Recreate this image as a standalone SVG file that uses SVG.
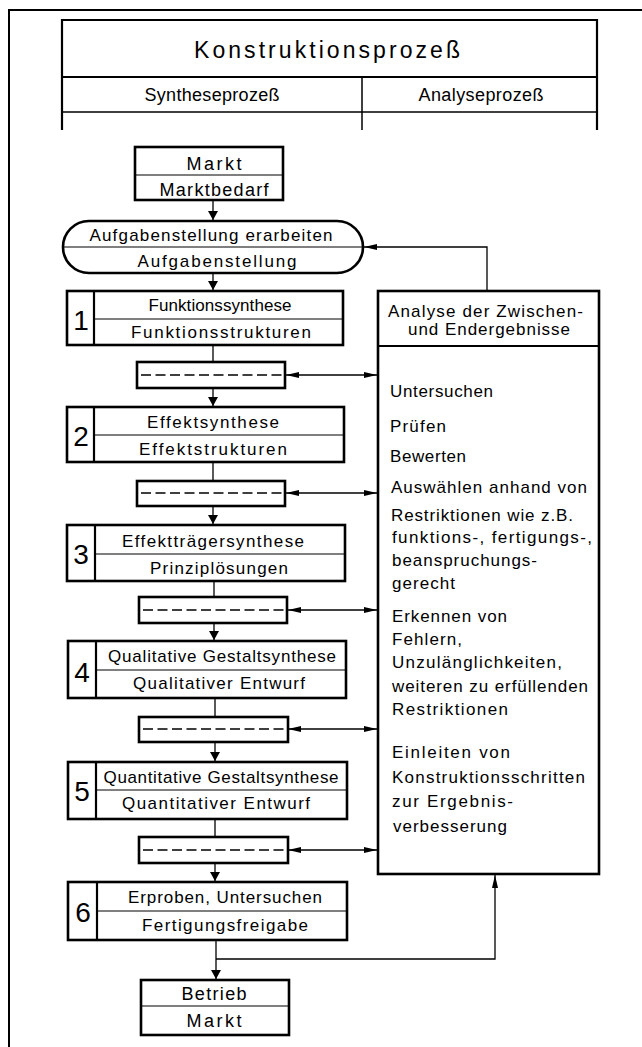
<svg xmlns="http://www.w3.org/2000/svg" width="642" height="1047" viewBox="0 0 642 1047">
  <defs>
    <style>
      .frame { fill: none; stroke: #000; stroke-width: 2; }
      .hd { fill: none; stroke: #000; stroke-width: 2.2; }
      .hdt { fill: none; stroke: #000; stroke-width: 1.5; }
      .box { fill: #fff; stroke: #000; stroke-width: 2.6; }
      .sep { stroke: #000; stroke-width: 1.2; }
      .sepb { stroke: #000; stroke-width: 2.2; }
      .dsh { stroke: #000; stroke-width: 1.5; stroke-dasharray: 10 4.5; }
      .con { fill: none; stroke: #000; stroke-width: 1.3; }
      .flow { marker-end: url(#ah); }
      .both { marker-start: url(#sa); marker-end: url(#sa); }
      .one { marker-end: url(#sa); }
      text { font-family: "Liberation Sans", Arial, sans-serif; fill: #000; }
      .c { font-size: 17px; text-anchor: middle; }
      .cm { font-size: 18px; text-anchor: middle; }
      .l { font-size: 17px; }
      .n { font-size: 28px; text-anchor: middle; }
    </style>
    <!-- solid arrowhead on the main flow -->
    <marker id="ah" viewBox="0 0 9 10" refX="9" refY="5" markerWidth="9" markerHeight="10" markerUnits="userSpaceOnUse" orient="auto">
      <path d="M0,0 L9,5 L0,10 z" fill="#000"/>
    </marker>
    <!-- slender arrowhead on the analysis links -->
    <marker id="sa" viewBox="0 0 13 6" refX="13" refY="3" markerWidth="13" markerHeight="6" markerUnits="userSpaceOnUse" orient="auto-start-reverse">
      <path d="M0,0 L13,3 L0,6 z" fill="#000"/>
    </marker>
  </defs>

  <rect width="642" height="1047" fill="#fff"/>

  <!-- page frame -->
  <path class="frame" d="M9,1047 V10 H642"/>

  <!-- table head -->
  <g id="header">
    <path class="hd" d="M62,130 V20 H597 V130 M62,77 H597"/>
    <path class="hdt" d="M62,112 H597 M362,77 V130"/>
    <text x="327" y="58" font-size="23" text-anchor="middle" textLength="266">Konstruktionsprozeß</text>
    <text class="cm" x="212" y="101" textLength="135">Syntheseprozeß</text>
    <text class="cm" x="481" y="101" textLength="125">Analyseprozeß</text>
  </g>

  <!-- connectors -->
  <g id="connectors">
    <path class="con flow" d="M213,200 V220"/>
    <path class="con flow" d="M213,273 V290"/>
    <path class="con" d="M213,345 V362"/>
    <path class="con flow" d="M213,388 V406"/>
    <path class="con" d="M213,462 V481"/>
    <path class="con flow" d="M213,506 V524"/>
    <path class="con" d="M214,581 V597"/>
    <path class="con flow" d="M214,623 V640"/>
    <path class="con" d="M215,698 V717"/>
    <path class="con flow" d="M215,742 V761"/>
    <path class="con" d="M215,819 V837"/>
    <path class="con flow" d="M215,863 V881"/>
    <path class="con flow" d="M216,940 V979"/>
    <path class="con one" d="M216,959 H495 V875"/>
    <path class="con one" d="M487,290 V247 H364"/>
    <path class="con both" d="M286,375 H377"/>
    <path class="con both" d="M286,493 H377"/>
    <path class="con both" d="M288,610 H377"/>
    <path class="con both" d="M288,729 H377"/>
    <path class="con both" d="M288,850 H377"/>
  </g>

  <g id="markt">
    <rect class="box" x="135" y="147" width="148" height="53"/>
    <line class="sep" x1="135" y1="175" x2="283" y2="175"/>
    <text class="cm" x="214" y="170" textLength="55">Markt</text>
    <text class="cm" x="214" y="196" textLength="109">Marktbedarf</text>
  </g>

  <g id="aufgabe">
    <path class="box" d="M89,221 H337 A26,26 0 0 1 337,273 H89 A26,26 0 0 1 89,221 z"/>
    <line class="sep" x1="63" y1="247" x2="363" y2="247"/>
    <text class="c" x="211" y="241" textLength="243">Aufgabenstellung erarbeiten</text>
    <text class="c" x="217" y="267" textLength="159">Aufgabenstellung</text>
  </g>

  <g id="schritt1">
    <rect class="box" x="67" y="291" width="276" height="54"/>
    <line class="sep" x1="95" y1="319" x2="343" y2="319"/>
    <line class="sepb" x1="94" y1="291" x2="94" y2="345"/>
    <text class="n" x="81" y="330">1</text>
    <text class="c" x="220" y="311" textLength="143">Funktionssynthese</text>
    <text class="c" x="221" y="338" textLength="180">Funktionsstrukturen</text>
  </g>
  <g id="ergebnis1">
    <rect class="box" x="137" y="362" width="148" height="26"/>
    <line class="dsh" x1="141" y1="375" x2="285" y2="375"/>
  </g>

  <g id="schritt2">
    <rect class="box" x="67" y="407" width="277" height="55"/>
    <line class="sep" x1="95" y1="435" x2="344" y2="435"/>
    <line class="sepb" x1="94" y1="407" x2="94" y2="462"/>
    <text class="n" x="81" y="446">2</text>
    <text class="c" x="213" y="428" textLength="132">Effektsynthese</text>
    <text class="c" x="213" y="455" textLength="148">Effektstrukturen</text>
  </g>
  <g id="ergebnis2">
    <rect class="box" x="137" y="481" width="148" height="25"/>
    <line class="dsh" x1="141" y1="493" x2="285" y2="493"/>
  </g>

  <g id="schritt3">
    <rect class="box" x="67" y="525" width="278" height="56"/>
    <line class="sep" x1="95" y1="554" x2="345" y2="554"/>
    <line class="sepb" x1="95" y1="525" x2="95" y2="581"/>
    <text class="n" x="81" y="564">3</text>
    <text class="c" x="213" y="547" textLength="182">Effektträgersynthese</text>
    <text class="c" x="219" y="574" textLength="138">Prinziplösungen</text>
  </g>
  <g id="ergebnis3">
    <rect class="box" x="139" y="597" width="148" height="26"/>
    <line class="dsh" x1="143" y1="610" x2="287" y2="610"/>
  </g>

  <g id="schritt4">
    <rect class="box" x="68" y="641" width="278" height="57"/>
    <line class="sep" x1="96" y1="670" x2="346" y2="670"/>
    <line class="sepb" x1="96" y1="641" x2="96" y2="698"/>
    <text class="n" x="82" y="682">4</text>
    <text class="c" x="222" y="662" textLength="228">Qualitative Gestaltsynthese</text>
    <text class="c" x="219" y="689" textLength="172">Qualitativer Entwurf</text>
  </g>
  <g id="ergebnis4">
    <rect class="box" x="139" y="717" width="149" height="25"/>
    <line class="dsh" x1="143" y1="729" x2="288" y2="729"/>
  </g>

  <g id="schritt5">
    <rect class="box" x="68" y="762" width="279" height="57"/>
    <line class="sep" x1="96" y1="790" x2="347" y2="790"/>
    <line class="sepb" x1="96" y1="762" x2="96" y2="819"/>
    <text class="n" x="82" y="801">5</text>
    <text class="c" x="221" y="783" textLength="235">Quantitative Gestaltsynthese</text>
    <text class="c" x="216" y="809" textLength="188">Quantitativer Entwurf</text>
  </g>
  <g id="ergebnis5">
    <rect class="box" x="139" y="837" width="149" height="26"/>
    <line class="dsh" x1="143" y1="850" x2="288" y2="850"/>
  </g>

  <g id="schritt6">
    <rect class="box" x="68" y="882" width="279" height="58"/>
    <line class="sep" x1="97" y1="911" x2="347" y2="911"/>
    <line class="sepb" x1="97" y1="882" x2="97" y2="940"/>
    <text class="n" x="83" y="922">6</text>
    <text class="c" x="225" y="903" textLength="194">Erproben, Untersuchen</text>
    <text class="c" x="225" y="931" textLength="166">Fertigungsfreigabe</text>
  </g>

  <g id="betrieb">
    <rect class="box" x="141" y="980" width="148" height="55"/>
    <line class="sep" x1="141" y1="1006" x2="289" y2="1006"/>
    <text class="cm" x="214" y="1000" textLength="65">Betrieb</text>
    <text class="cm" x="214" y="1027" textLength="55">Markt</text>
  </g>

  <g id="analyse">
    <rect class="box" x="378" y="291" width="221" height="583"/>
    <line class="sepb" x1="378" y1="346" x2="599" y2="346"/>
    <text class="l" x="388" y="317" textLength="195">Analyse der Zwischen-</text>
    <text class="l" x="408" y="335" textLength="162">und Endergebnisse</text>
    <text class="l" x="390" y="397" textLength="103">Untersuchen</text>
    <text class="l" x="390" y="432" textLength="56">Prüfen</text>
    <text class="l" x="390" y="462" textLength="76">Bewerten</text>
    <text class="l" x="391" y="493" textLength="196">Auswählen anhand von</text>
    <text class="l" x="391" y="521" textLength="182">Restriktionen wie z.B.</text>
    <text class="l" x="392" y="543" textLength="200">funktions-, fertigungs-,</text>
    <text class="l" x="392" y="566" textLength="145">beanspruchungs-</text>
    <text class="l" x="392" y="589" textLength="63">gerecht</text>
    <text class="l" x="392" y="622" textLength="115">Erkennen von</text>
    <text class="l" x="392" y="645" textLength="70">Fehlern,</text>
    <text class="l" x="392" y="668" textLength="170">Unzulänglichkeiten,</text>
    <text class="l" x="392" y="692" textLength="196">weiteren zu erfüllenden</text>
    <text class="l" x="392" y="715" textLength="116">Restriktionen</text>
    <text class="l" x="392" y="758" textLength="118">Einleiten von</text>
    <text class="l" x="392" y="783" textLength="193">Konstruktionsschritten</text>
    <text class="l" x="392" y="807" textLength="121">zur Ergebnis-</text>
    <text class="l" x="393" y="832" textLength="114">verbesserung</text>
  </g>
</svg>
